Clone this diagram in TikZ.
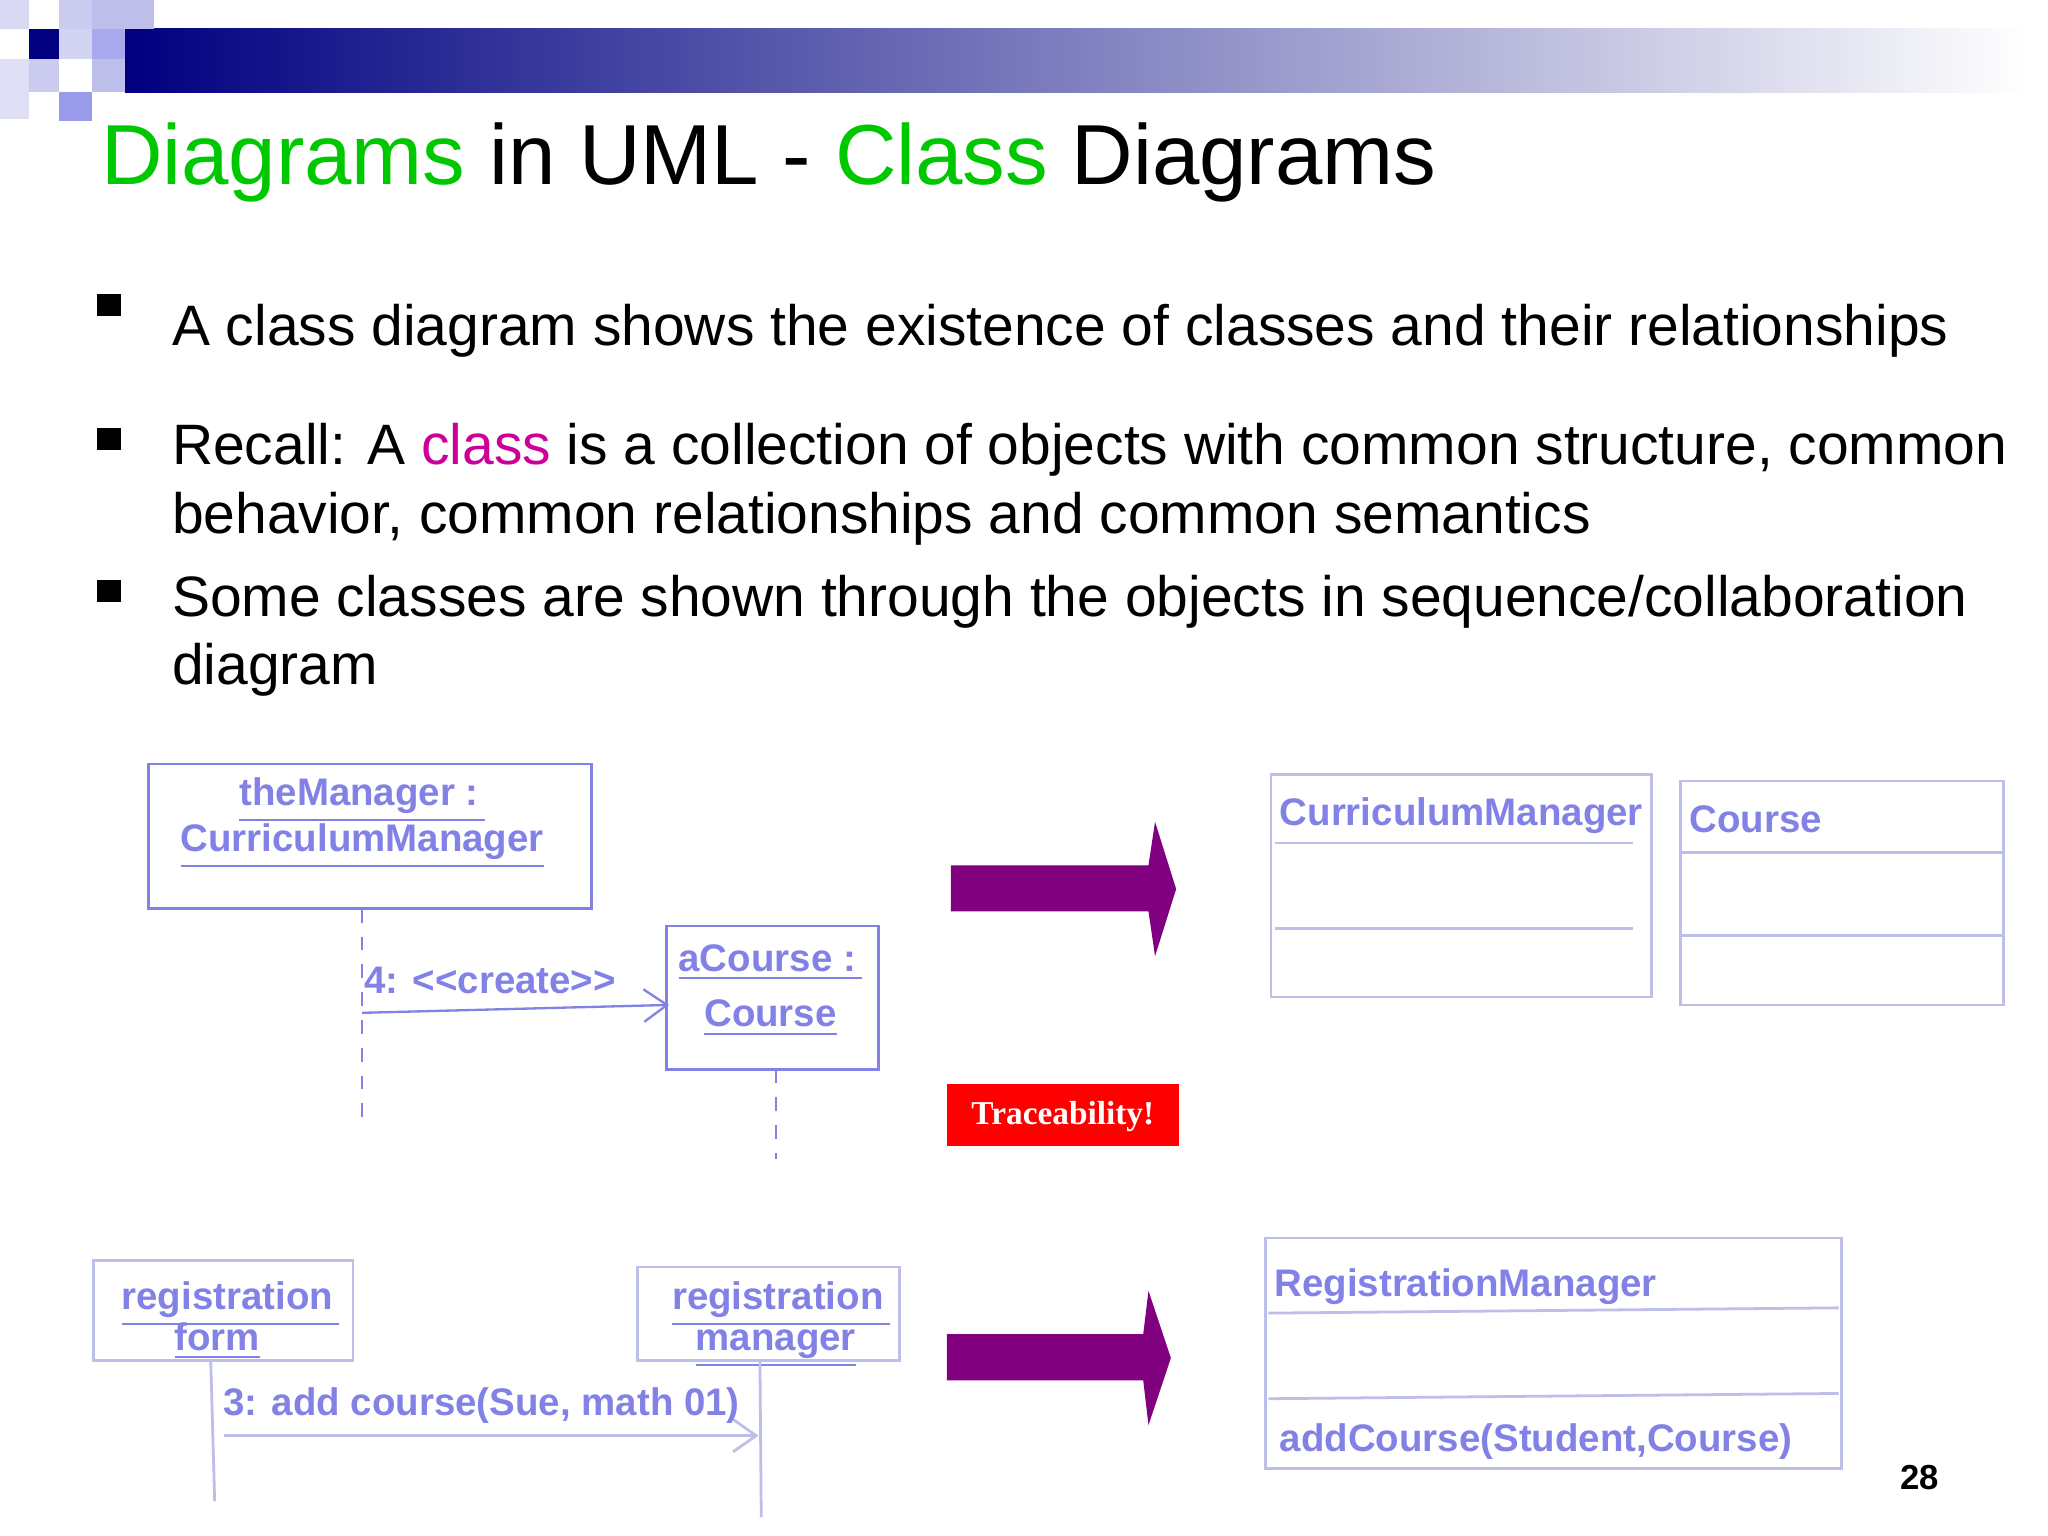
\documentclass[tikz,border=0pt]{standalone}
\usepackage{fontspec}
\setmainfont{Liberation Sans}
\usetikzlibrary{arrows.meta}
\definecolor{tgreen}{RGB}{0,200,0}
\definecolor{lav}{RGB}{130,130,230}
\definecolor{lavl}{RGB}{190,190,235}
\definecolor{purp}{RGB}{128,0,128}
\definecolor{mag}{RGB}{204,0,153}
\definecolor{navy}{RGB}{0,0,128}
\begin{document}
\begin{tikzpicture}[x=0.01cm,y=-0.01cm,
 box/.style={draw=lav,line width=0.6pt},
 lbox/.style={draw=lavl,line width=0.6pt},
 dtxt/.style={text=lav,font=\fontsize{8.3}{9}\selectfont\bfseries,inner sep=0pt},
 btxt/.style={font=\fontsize{12.3}{14.5}\selectfont,inner sep=0pt,anchor=base west},
 life/.style={draw=lav,dashed,line width=0.5pt},
 msg/.style={draw=lav,line width=0.5pt,-{Straight Barb[length=5pt,width=7pt]}},
 blk/.style={fill=purp,draw=none}]
\useasboundingbox (0,0) rectangle (1555,1166);
\fill[white] (0,0) rectangle (1555,1166);
% header band
\shade[left color=navy,right color=white] (95,22) rectangle (1540,70);
\fill[lavl!60] (0,0) rectangle (22,22);
\fill[lavl!80] (45,0) rectangle (70,22);
\fill[lavl] (70,0) rectangle (117,22);
\fill[navy] (22,22) rectangle (45,45);
\fill[lavl!70] (45,22) rectangle (70,45);
\fill[lav!70] (70,22) rectangle (95,45);
\fill[lavl!50] (0,45) rectangle (22,90);
\fill[lavl!80] (22,45) rectangle (45,70);
\fill[lav!80] (45,70) rectangle (70,92);
\fill[lavl] (70,45) rectangle (95,70);
% title
\node[anchor=base west,inner sep=0pt,font=\fontsize{18.4}{22}\selectfont] (title) at (76,140)
 {\textcolor{tgreen}{Diagrams} in UML - \textcolor{tgreen}{Class} Diagrams};
% bullets
\foreach \y in {240,342,457}
 \fill (74,\y-17) rectangle (92,\y);
\node[btxt] (t1) at (130,262) {A class diagram shows the existence of classes and their relationships};
\node[btxt] (t2) at (130,353) {Recall: A \textcolor{mag}{class} is a collection of objects with common structure, common};
\node[btxt] (t2b) at (130,405) {behavior, common relationships and common semantics};
\node[btxt] (t3) at (130,468) {Some classes are shown through the objects in sequence/collaboration};
\node[btxt] (t3b) at (130,520) {diagram};
% object diagram upper
\draw[box] (113,580) rectangle (449,690);
\node[dtxt,align=center] (mgr) at (275,625) {\underline{theManager :\,}\\[-1pt]\underline{CurriculumManager}};
\draw[box] (506,703) rectangle (667,812);
\node[dtxt,align=center] (acourse) at (585,752) {\underline{aCourse :\,}\\[3pt]\underline{Course}};
\coordinate (l1a) at (275,690); \coordinate (l1b) at (275,855);
\draw[life] (l1a) -- (l1b);
\coordinate (l2a) at (589,812); \coordinate (l2b) at (589,880);
\draw[life] (l2a) -- (l2b);
\coordinate (m1a) at (275,769); \coordinate (m1b) at (508,763);
\draw[msg] (m1a) -- (m1b);
\node[dtxt,anchor=base west] (create) at (276,754) {4: <{}<create>{}>};
% arrows
\fill[blk] (722,657)--(872,657)--(877,624)--(893,675)--(877,726)--(872,692)--(722,692)--cycle;
\fill[blk] (719,1013)--(868,1013)--(872,980)--(889,1031)--(872,1082)--(868,1048)--(719,1048)--cycle;
\fill[red] (719,823) rectangle (895,870);
\node[text=white,font=\fontsize{7.2}{8}\selectfont\bfseries\fontspec{Liberation Serif}] (tr) at (807,848) {Traceability!};
% class boxes
\draw[lbox] (965,588) rectangle (1254,757);
\draw[lbox] (968,640) -- (1240,640);
\draw[lbox] (968,705) -- (1240,705);
\node[dtxt,anchor=base west] (cm) at (971,627) {CurriculumManager};
\draw[lbox] (1276,593) rectangle (1521,763);
\draw[lbox] (1276,647) -- (1521,647);
\draw[lbox] (1276,710) -- (1521,710);
\node[dtxt,anchor=base west] (co) at (1282,632) {Course};
\draw[lbox] (961,940) rectangle (1398,1115);
\draw[lbox] (963,997) -- (1396,993);
\draw[lbox] (963,1062) -- (1396,1058);
\node[dtxt,anchor=base west] (rm) at (967,984) {RegistrationManager};
\node[dtxt,anchor=base west] (ac) at (971,1102) {addCourse(Student,Course)};
% lower object diagram
\draw[lbox] (71,957) rectangle (268,1033);
\node[dtxt,anchor=base] (rf1) at (175,994) {\underline{registration\,}};
\node[dtxt,anchor=base] (rf2) at (165,1025) {\underline{form}};
\draw[lbox] (484,962) rectangle (683,1033);
\node[dtxt,anchor=base] (rm1) at (593,994) {\underline{registration\,}};
\node[dtxt,anchor=base] (rm2) at (589,1025) {\underline{manager}};
\coordinate (l3a) at (160,1033); \coordinate (l3b) at (163,1140);
\draw[lavl,line width=0.6pt] (l3a) -- (l3b);
\coordinate (l4a) at (577,1033); \coordinate (l4b) at (578,1152);
\draw[lavl,line width=0.6pt] (l4a) -- (l4b);
\coordinate (m2a) at (170,1090); \coordinate (m2b) at (576,1090);
\draw[lavl,line width=0.6pt,-{Straight Barb[length=5pt,width=7pt]}] (m2a) -- (m2b);
\node[dtxt,anchor=base west] (add) at (169,1075) {3: add course(Sue, math 01)};
\node[anchor=base east,inner sep=0pt,font=\fontsize{7.5}{9}\selectfont\bfseries] (num) at (1473,1131) {28};
\end{tikzpicture}
\end{document}
